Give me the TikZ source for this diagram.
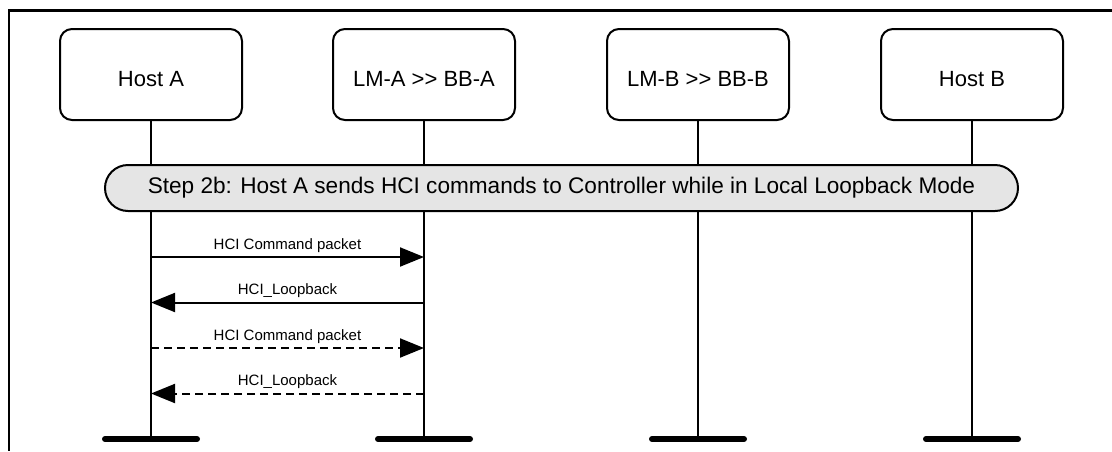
\documentclass[tikz,border=0pt]{standalone}
\usepackage{fontspec}
\setmainfont{Liberation Sans}
\usetikzlibrary{arrows.meta,positioning}

\begin{document}
\begin{tikzpicture}[x=1pt,y=-1pt,
  entity/.style={draw,line width=2pt,rounded corners=12pt,minimum width=182pt,minimum height=91pt,
    font=\fontsize{22}{26}\selectfont,inner sep=0pt,text height=23pt,text depth=0pt},
  phase/.style={draw,line width=2pt,fill=black!10,rounded corners=23pt,minimum width=913pt,
    minimum height=46pt,font=\fontsize{22.6}{26}\selectfont,inner sep=0pt},
  life/.style={line width=2pt},
  foot/.style={line width=6pt,line cap=round},
  msg/.style={line width=2pt,-{Triangle[length=24pt,width=19pt]}},
  dmsg/.style={msg,dash pattern=on 8pt off 5pt},
  lbl/.style={font=\fontsize{15}{18}\selectfont,anchor=base,yshift=8pt,inner sep=0pt}
]
  \useasboundingbox (0,0) rectangle (1112,451);
  % frame
  \draw[line width=2.5pt] (1112,10.5) -- (9,10.5) -- (9,451);
  % entities
  \node[entity] (hostA) at (151,74.5) {Host A};
  \node[entity] (lmA) at (424,74.5) {LM-A >{}> BB-A};
  \node[entity] (lmB) at (698,74.5) {LM-B >{}> BB-B};
  \node[entity] (hostB) at (972,74.5) {Host B};
  % lifelines
  \foreach \e in {hostA,lmA,lmB,hostB} {
    \coordinate (\e-end) at (\e.south |- 0,439);
    \draw[life] (\e.south) -- (\e-end);
    \draw[foot] ([xshift=-46pt]\e-end) -- ([xshift=46pt]\e-end);
  }
  % step bar
  \node[phase] (step) at (561.5,188) {Step 2b: Host A sends HCI commands to Controller while in Local Loopback Mode};
  % message rows
  \coordinate (m1) at (0,257);
  \coordinate (m2) at (0,302.5);
  \coordinate (m3) at (0,348);
  \coordinate (m4) at (0,393.5);
  \draw[msg] (hostA |- m1) -- node[lbl] {HCI Command packet} (lmA |- m1);
  \draw[msg] (lmA |- m2) -- node[lbl] {HCI\_Loopback} (hostA |- m2);
  \draw[dmsg] (hostA |- m3) -- node[lbl] {HCI Command packet} (lmA |- m3);
  \draw[dmsg] (lmA |- m4) -- node[lbl] {HCI\_Loopback} (hostA |- m4);
\end{tikzpicture}
\end{document}
